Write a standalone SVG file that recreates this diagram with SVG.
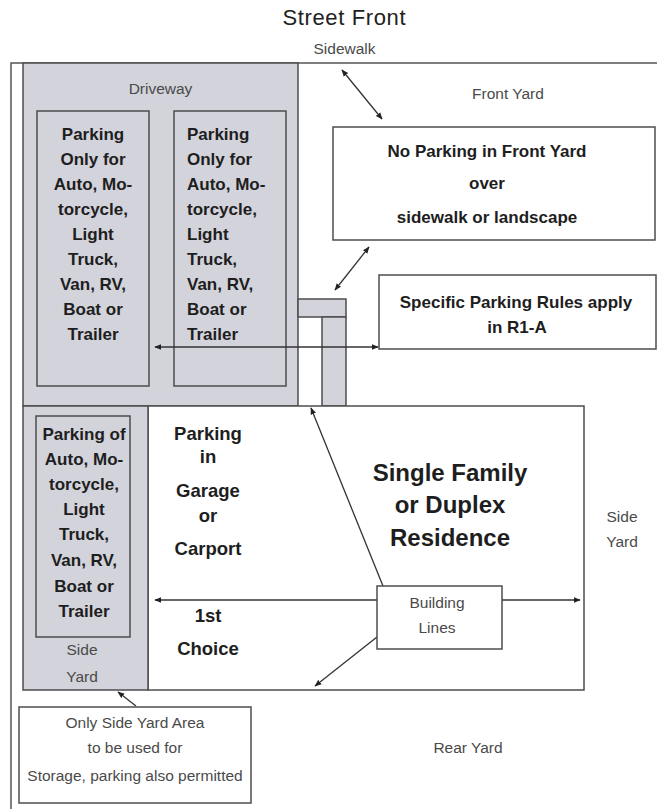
<svg xmlns="http://www.w3.org/2000/svg" width="657" height="809" viewBox="0 0 657 809">
<style>
text{font-family:"Liberation Sans",Arial,sans-serif;}
.b{font-weight:bold;fill:#1e1e1e;font-size:17px;}
.r{fill:#4a4a4a;font-size:15.5px;}
.c{text-anchor:middle;}
.big{font-size:24px;}
.mid{font-size:18.5px;}
.g{fill:#d3d3db;stroke:#4d4d4d;stroke-width:1.5;}
.w{fill:#ffffff;stroke:#4d4d4d;stroke-width:1.5;}
.ln{stroke:#333;stroke-width:1.3;fill:none;}
.c1{marker-end:url(#ah);}
.c2{marker-start:url(#ah);marker-end:url(#ah);}
</style>
<defs>
<marker id="ah" viewBox="0 0 10 10" refX="9" refY="5" markerWidth="7" markerHeight="7" markerUnits="userSpaceOnUse" orient="auto-start-reverse">
<path d="M0,1 L10,5 L0,9 Z" fill="#222"/>
</marker>
</defs>
<rect width="657" height="809" fill="#ffffff"/>
<g id="lot">
<path d="M11,809 L11,63 L657,63" fill="none" stroke="#555" stroke-width="1.5"/>
<text class="c" x="344" y="25" style="font-size:22px" fill="#222" textLength="123">Street Front</text>
<text class="r c" x="344.5" y="54">Sidewalk</text>
<text class="r c" x="508" y="99">Front Yard</text>
<text class="r c" x="622" y="522">Side</text>
<text class="r c" x="622" y="547">Yard</text>
<text class="r c" x="468" y="753">Rear Yard</text>
</g>
<g id="driveway">
<rect class="g" x="23" y="63" width="275" height="343"/>
<text class="r c" x="160.5" y="94">Driveway</text>
</g>
<g id="connector-structure">
<rect class="g" x="298" y="299" width="48" height="18"/>
<rect class="g" x="322" y="317" width="24" height="89"/>
</g>
<g id="parking-left">
<rect class="g" x="37" y="111" width="112" height="275"/>
<text class="b c" x="93" y="140">Parking</text>
<text class="b c" x="93" y="165">Only for</text>
<text class="b c" x="93" y="190">Auto, Mo-</text>
<text class="b c" x="93" y="215">torcycle,</text>
<text class="b c" x="93" y="240">Light</text>
<text class="b c" x="93" y="265">Truck,</text>
<text class="b c" x="93" y="290">Van, RV,</text>
<text class="b c" x="93" y="315">Boat or</text>
<text class="b c" x="93" y="340">Trailer</text>
</g>
<g id="parking-right">
<rect class="g" x="174" y="111" width="112" height="275"/>
<text class="b" x="187" y="140">Parking</text>
<text class="b" x="187" y="165">Only for</text>
<text class="b" x="187" y="190">Auto, Mo-</text>
<text class="b" x="187" y="215">torcycle,</text>
<text class="b" x="187" y="240">Light</text>
<text class="b" x="187" y="265">Truck,</text>
<text class="b" x="187" y="290">Van, RV,</text>
<text class="b" x="187" y="315">Boat or</text>
<text class="b" x="187" y="340">Trailer</text>
</g>
<g id="no-parking-front">
<rect class="w" x="333" y="127" width="322" height="113"/>
<text class="b c" x="487" y="157">No Parking in Front Yard</text>
<text class="b c" x="487" y="189">over</text>
<text class="b c" x="487" y="223">sidewalk or landscape</text>
</g>
<g id="specific-rules">
<rect class="w" x="379" y="275" width="277" height="74"/>
<text class="b c" x="516" y="308">Specific Parking Rules apply</text>
<text class="b c" x="517" y="333">in R1-A</text>
</g>
<g id="residence">
<rect class="w" x="148" y="406" width="436" height="284"/>
<text class="b c big" x="450" y="481">Single Family</text>
<text class="b c big" x="450" y="513">or Duplex</text>
<text class="b c big" x="450" y="546">Residence</text>
</g>
<g id="garage">
<text class="b c mid" x="208" y="440">Parking</text>
<text class="b c mid" x="208" y="463">in</text>
<text class="b c mid" x="208" y="497">Garage</text>
<text class="b c mid" x="208" y="522">or</text>
<text class="b c mid" x="208" y="555">Carport</text>
<text class="b c mid" x="208" y="622">1st</text>
<text class="b c mid" x="208" y="655">Choice</text>
</g>
<g id="side-yard">
<rect class="g" x="23" y="406" width="125" height="284"/>
<rect class="g" x="36" y="416" width="94" height="221"/>
<text class="b c" x="84" y="440">Parking of</text>
<text class="b c" x="84" y="465">Auto, Mo-</text>
<text class="b c" x="84" y="490">torcycle,</text>
<text class="b c" x="84" y="515">Light</text>
<text class="b c" x="84" y="540">Truck,</text>
<text class="b c" x="84" y="566">Van, RV,</text>
<text class="b c" x="84" y="592">Boat or</text>
<text class="b c" x="84" y="617">Trailer</text>
<text class="r c" x="82" y="655">Side</text>
<text class="r c" x="82" y="682">Yard</text>
</g>
<g id="connectors">
<line class="ln c2" x1="342" y1="70" x2="382" y2="119"/>
<line class="ln c2" x1="369" y1="247" x2="335" y2="290"/>
<line class="ln c2" x1="155" y1="347" x2="378" y2="347"/>
<line class="ln c1" x1="383" y1="586" x2="311" y2="408"/>
<line class="ln c2" x1="155" y1="600" x2="580" y2="600"/>
<line class="ln c1" x1="377" y1="637" x2="315" y2="686"/>
<line class="ln c1" x1="136" y1="706" x2="118" y2="692"/>
</g>
<g id="building-lines">
<rect class="w" x="377" y="586" width="125" height="63"/>
<text class="r c" x="437" y="608">Building</text>
<text class="r c" x="437" y="633">Lines</text>
</g>
<g id="storage-note">
<rect class="w" x="19" y="707" width="232" height="96"/>
<text class="r c" x="135" y="728">Only Side Yard Area</text>
<text class="r c" x="135" y="753">to be used for</text>
<text class="r c" x="135" y="781">Storage, parking also permitted</text>
</g>
</svg>
